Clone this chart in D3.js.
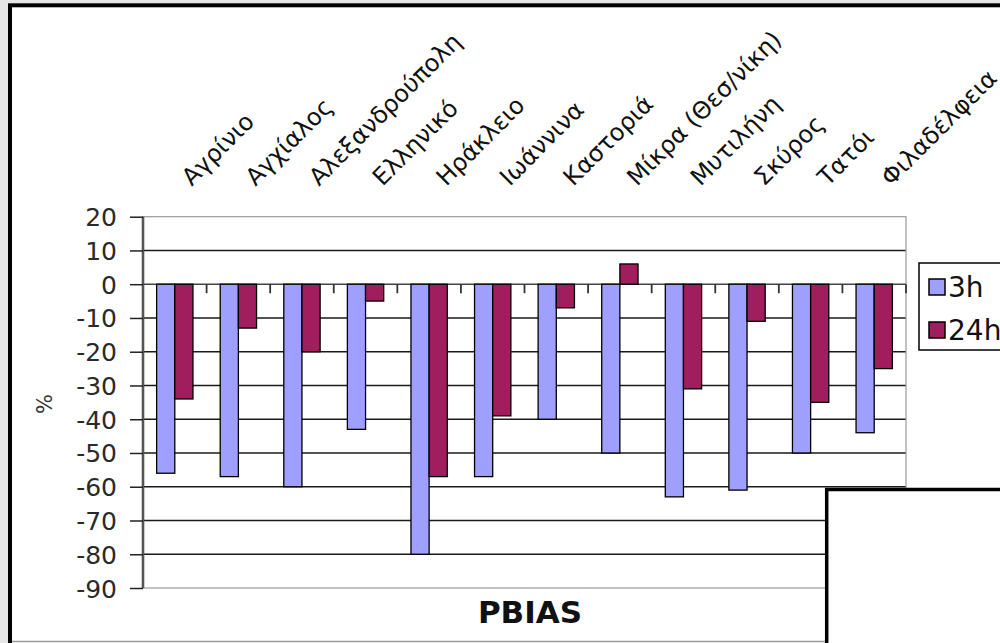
<!DOCTYPE html>
<html>
<head>
<meta charset="utf-8">
<script src="https://cdn.jsdelivr.net/npm/d3@7/dist/d3.min.js"></script>
<style>
  html, body { margin: 0; padding: 0; background: #e6e6e6; }
  svg { display: block; }
  text { font-family: "DejaVu Sans", Arial, sans-serif; }
</style>
</head>
<body>
<div id="chart"></div>
<script>
// station names along the category axis
const stations = ["Αγρίνιο", "Αγχίαλος", "Αλεξανδρούπολη", "Ελληνικό", "Ηράκλειο", "Ιωάννινα",
  "Καστοριά", "Μίκρα (Θεσ/νίκη)", "Μυτιλήνη", "Σκύρος", "Τατόι", "Φιλαδέλφεια"];
const seriesNames = ["3h", "24h"];
// PBIAS values (%)
const pbias3h  = [-56, -57, -60, -43, -80, -57, -40, -50, -63, -61, -50, -44];
const pbias24h = [-34, -13, -20, -5, -57, -39, -7, 6, -31, -11, -35, -25];
const yTicks = [20, 10, 0, -10, -20, -30, -40, -50, -60, -70, -80, -90];
const colors = ["#9f9fff", "#a01e5e"];

const width = 1000, height = 643;
const plot = { left: 143, right: 906, top: 216.7, bottom: 588 };

const svg = d3.select("#chart").append("svg")
  .attr("width", width).attr("height", height);

// outer frame
svg.append("rect").attr("width", width).attr("height", height).attr("fill", "#e6e6e6");
svg.append("rect")
  .attr("x", 10).attr("y", 5.3).attr("width", 1000).attr("height", 660)
  .attr("fill", "#fff").attr("stroke", "#000").attr("stroke-width", 4);
svg.append("line")
  .attr("x1", 12).attr("x2", 1000).attr("y1", 641.5).attr("y2", 641.5)
  .attr("stroke", "#9a9a9a").attr("stroke-width", 1.5);

const x0 = d3.scaleBand().domain(stations).range([plot.left, plot.right]);
// Excel-like gap width 150%
const x1 = d3.scaleBand().domain(seriesNames).range([0, x0.bandwidth()])
  .paddingInner(0).paddingOuter(0.75);
const y = d3.scaleLinear().domain([-90, 20]).range([plot.bottom, plot.top]);

// gridlines
svg.append("g").selectAll("line")
  .data(yTicks.filter(t => t !== 20 && t !== -90))
  .join("line")
  .attr("x1", plot.left).attr("x2", plot.right)
  .attr("y1", d => y(d)).attr("y2", d => y(d))
  .attr("stroke", d => d === 0 ? "#444" : "#1a1a1a")
  .attr("stroke-width", 1.4);

// plot border
svg.append("rect")
  .attr("x", plot.left).attr("y", plot.top)
  .attr("width", plot.right - plot.left).attr("height", plot.bottom - plot.top)
  .attr("fill", "none").attr("stroke", "#9a9a9a").attr("stroke-width", 1.2);

// category ticks under the zero line
svg.append("g").selectAll("line")
  .data(stations)
  .join("line")
  .attr("x1", d => x0(d) + x0.step())
  .attr("x2", d => x0(d) + x0.step())
  .attr("y1", y(0)).attr("y2", y(0) + 9)
  .attr("stroke", "#333").attr("stroke-width", 1.8);

// bars
const rows = stations.map((s, i) => ({ station: s, values: [pbias3h[i], pbias24h[i]] }));
svg.append("g").selectAll("g")
  .data(rows)
  .join("g")
  .attr("transform", d => `translate(${x0(d.station)},0)`)
  .selectAll("rect")
  .data(d => d.values.map((v, k) => ({ key: seriesNames[k], value: v, k })))
  .join("rect")
  .attr("x", d => x1(d.key))
  .attr("width", x1.bandwidth())
  .attr("y", d => Math.min(y(0), y(d.value)))
  .attr("height", d => Math.abs(y(d.value) - y(0)))
  .attr("fill", d => colors[d.k])
  .attr("stroke", "#000").attr("stroke-width", 1.3);

// value axis (plain hyphen minus, like the original)
const yAxis = d3.axisLeft(y).tickValues(yTicks).tickSize(13).tickPadding(13)
  .tickFormat(d => String(d));
const ga = svg.append("g").attr("transform", `translate(${plot.left},0)`).call(yAxis);
ga.select(".domain").attr("stroke", "#555").attr("stroke-width", 2.6)
  .attr("d", `M0,${plot.top}V${plot.bottom}`);
ga.selectAll(".tick line").attr("stroke", "#222").attr("stroke-width", 1.5);
ga.selectAll(".tick text")
  .attr("font-size", 25).attr("fill", "#2a2a2a")
  .attr("font-family", "'DejaVu Sans', sans-serif")
  .attr("dy", "0.36em");

// rotated station labels on top
svg.append("g").selectAll("text")
  .data(stations)
  .join("text")
  .attr("transform", d => `translate(${x0(d) + x0.bandwidth() / 2 + 17},187) rotate(-45)`)
  .attr("font-size", 24).attr("fill", "#111")
  .text(d => d);

// axis titles
svg.append("text")
  .attr("transform", "translate(52,404) rotate(-90)")
  .attr("text-anchor", "middle")
  .attr("font-size", 21).attr("fill", "#333")
  .text("%");
svg.append("text")
  .attr("x", 530).attr("y", 623)
  .attr("text-anchor", "middle")
  .attr("font-family", "Arial, 'Liberation Sans', sans-serif")
  .attr("font-size", 31).attr("font-weight", "bold").attr("fill", "#111")
  .text("PBIAS");

// legend
const legend = svg.append("g");
legend.append("rect")
  .attr("x", 919).attr("y", 263).attr("width", 120).attr("height", 87)
  .attr("fill", "#fff").attr("stroke", "#000").attr("stroke-width", 1.5);
const items = legend.selectAll("g.item")
  .data(seriesNames)
  .join("g")
  .attr("class", "item")
  .attr("transform", (d, i) => `translate(929,${279 + i * 43})`);
items.append("rect")
  .attr("width", 16).attr("height", 16)
  .attr("fill", (d, i) => colors[i])
  .attr("stroke", "#000").attr("stroke-width", 1.5);
items.append("text")
  .attr("x", 19).attr("y", 8).attr("dy", "0.36em")
  .attr("font-size", 28).attr("fill", "#111")
  .text(d => d);

// overlapping window in the lower right
svg.append("rect")
  .attr("x", 826.7).attr("y", 489.5).attr("width", 300).attr("height", 300)
  .attr("fill", "#fff").attr("stroke", "#000").attr("stroke-width", 3.5);
</script>
</body>
</html>
